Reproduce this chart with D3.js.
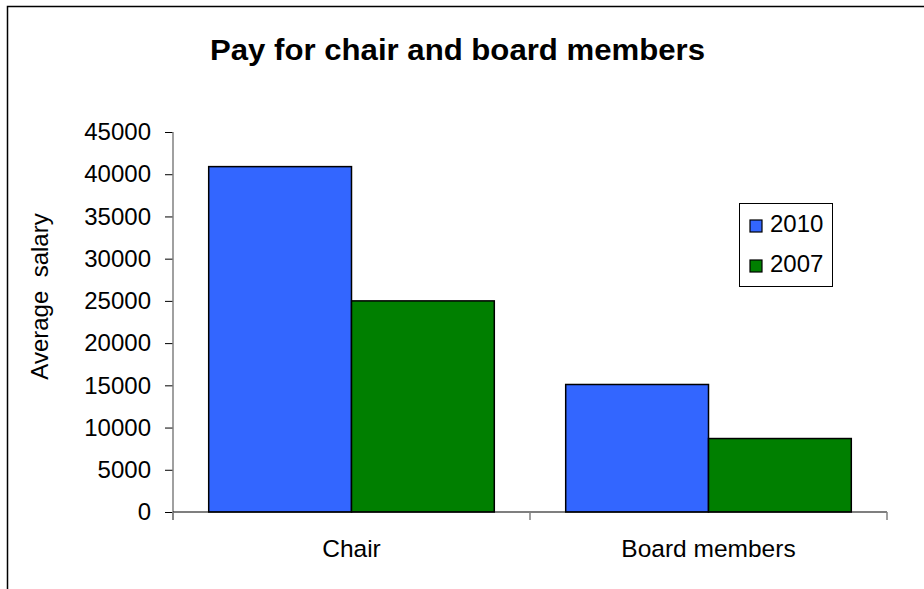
<!DOCTYPE html>
<html>
<head>
<meta charset="utf-8">
<script src="https://cdn.jsdelivr.net/npm/d3@7/dist/d3.min.js"></script>
<style>
  html, body { margin: 0; padding: 0; background: #fff; }
  svg { display: block; font-family: "Liberation Sans", Arial, sans-serif; }
</style>
</head>
<body>
<svg id="chart" width="924" height="589"></svg>
<script>
// Chart data
const categories = ["Chair", "Board members"];
const seriesNames = ["2010", "2007"];
const values2010 = [40900, 15100];
const values2007 = [25000, 8700];
const yTicks = [0, 5000, 10000, 15000, 20000, 25000, 30000, 35000, 40000, 45000];
const seriesColors = ["#3366FF", "#007F00"];

const svg = d3.select("#chart");

// Plot area
const plot = { left: 173, right: 887, top: 132, bottom: 512 };

const x = d3.scaleBand()
  .domain(categories)
  .range([plot.left, plot.right])
  .paddingInner(0.2)
  .paddingOuter(0.1);

const xSeries = d3.scaleBand()
  .domain(seriesNames)
  .range([0, x.bandwidth()]);

const y = d3.scaleLinear()
  .domain([0, 45000])
  .range([plot.bottom, plot.top]);

// Outer frame (left and top edges)
svg.append("path")
  .attr("d", "M7.5,589 V6.5 H924")
  .attr("fill", "none")
  .attr("stroke", "#000")
  .attr("stroke-width", 1.5);

// Title
svg.append("text")
  .attr("x", 457.5)
  .attr("y", 60)
  .attr("text-anchor", "middle")
  .attr("font-size", 29)
  .attr("font-weight", "bold")
  .attr("textLength", 495)
  .attr("lengthAdjust", "spacingAndGlyphs")
  .text("Pay for chair and board members");

// Y axis
const yAxis = svg.append("g")
  .attr("transform", `translate(${plot.left},0)`)
  .call(d3.axisLeft(y).tickValues(yTicks).tickSize(8).tickPadding(14).tickFormat(d3.format("d")));
yAxis.select(".domain").remove();
yAxis.append("line")
  .attr("x1", 0).attr("x2", 0)
  .attr("y1", plot.top).attr("y2", plot.bottom + 8)
  .attr("stroke", "#808080").attr("stroke-width", 1.5);
yAxis.selectAll(".tick line").attr("stroke", "#000");
yAxis.selectAll(".tick text")
  .attr("font-size", 24)
  .attr("fill", "#000")
  .attr("font-family", "Liberation Sans, Arial, sans-serif");

// Y axis title
svg.append("text")
  .attr("transform", "translate(48,296.5) rotate(-90)")
  .attr("text-anchor", "middle")
  .attr("font-size", 24)
  .attr("xml:space", "preserve")
  .style("white-space", "pre")
  .text("Average  salary");

// Bars
const series = [values2010, values2007];
const groups = svg.append("g").selectAll("g")
  .data(categories)
  .join("g")
  .attr("transform", d => `translate(${x(d)},0)`);

groups.selectAll("rect")
  .data((d, i) => seriesNames.map((s, j) => ({ s, v: series[j][i], c: seriesColors[j] })))
  .join("rect")
  .attr("x", d => xSeries(d.s))
  .attr("width", xSeries.bandwidth())
  .attr("y", d => y(d.v))
  .attr("height", d => y(0) - y(d.v))
  .attr("fill", d => d.c)
  .attr("stroke", "#000")
  .attr("stroke-width", 1.5);

// X axis
const xEdges = [plot.left, plot.left + x.step(), plot.right];
svg.append("line")
  .attr("x1", plot.left).attr("x2", plot.right)
  .attr("y1", plot.bottom).attr("y2", plot.bottom)
  .attr("stroke", "#000").attr("stroke-width", 1.2);
svg.append("g").selectAll("line")
  .data(xEdges)
  .join("line")
  .attr("x1", d => d).attr("x2", d => d)
  .attr("y1", plot.bottom).attr("y2", plot.bottom + 8)
  .attr("stroke", "#808080").attr("stroke-width", 1.5);

svg.append("g").selectAll("text")
  .data(categories)
  .join("text")
  .attr("x", d => x(d) + x.bandwidth() / 2)
  .attr("y", 557)
  .attr("text-anchor", "middle")
  .attr("font-size", 24.5)
  .text(d => d);

// Legend
const legend = svg.append("g");
legend.append("rect")
  .attr("x", 739.5).attr("y", 203.5)
  .attr("width", 93).attr("height", 83)
  .attr("fill", "#fff")
  .attr("stroke", "#000")
  .attr("stroke-width", 1);
const items = legend.selectAll("g.item")
  .data(seriesNames)
  .join("g")
  .attr("class", "item")
  .attr("transform", (d, i) => `translate(0,${i * 40})`);
items.append("rect")
  .attr("x", 750).attr("y", 220)
  .attr("width", 12).attr("height", 12)
  .attr("fill", (d, i) => seriesColors[i])
  .attr("stroke", "#000")
  .attr("stroke-width", 1.2);
items.append("text")
  .attr("x", 770).attr("y", 232)
  .attr("font-size", 24)
  .text(d => d);
</script>
</body>
</html>
